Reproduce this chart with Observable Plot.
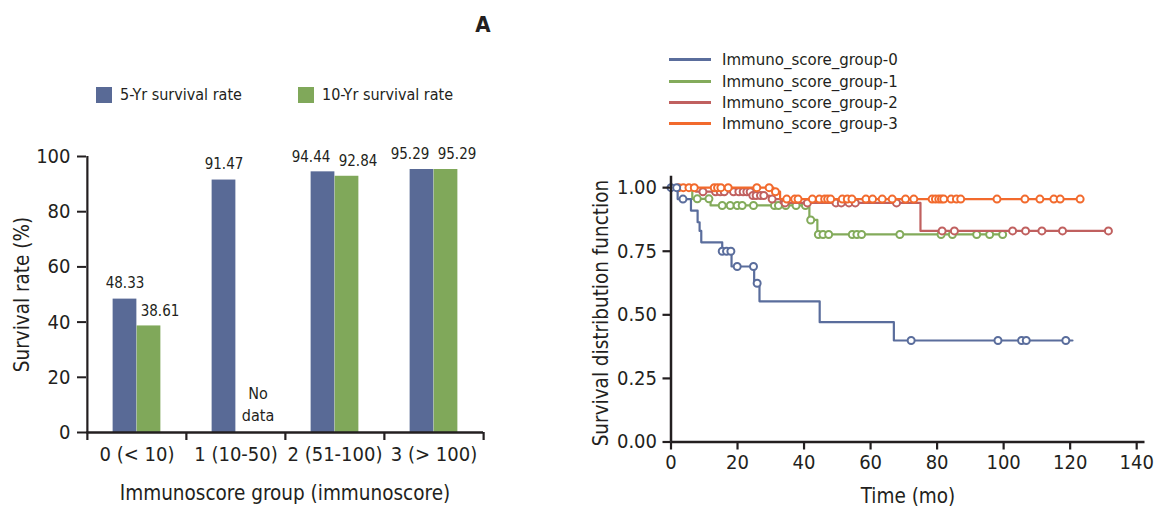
<!DOCTYPE html>
<html><head><meta charset="utf-8">
<script src="https://cdn.jsdelivr.net/npm/d3@7"></script>
<script src="https://cdn.jsdelivr.net/npm/@observablehq/plot@0.6"></script>
<style>
body{margin:0;background:#fff;}
#wrap{position:relative;width:1156px;height:510px;overflow:hidden;font-family:'Liberation Sans Narrow','Arial Narrow','DejaVu Sans Condensed',sans-serif;color:#231f20;}
.abs{position:absolute;white-space:nowrap;}
</style></head><body><div id="wrap"></div>
<script>
// ---------- Bar chart data ----------
const categories = ["0 (< 10)", "1 (10-50)", "2 (51-100)", "3 (> 100)"];
const fiveYr = [48.33, 91.47, 94.44, 95.29];
const tenYr = [38.61, null, 92.84, 95.29];
const seriesNames = ["5-Yr survival rate", "10-Yr survival rate"];
const barColors = ["#596a96", "#80a85a"];
const barYTicks = [0, 20, 40, 60, 80, 100];
const barXTitle = "Immunoscore group (immunoscore)";
const barYTitle = "Survival rate (%)";
const noDataText = "No\ndata";

// ---------- Kaplan-Meier data ----------
const groupNames = ["Immuno_score_group-0", "Immuno_score_group-1", "Immuno_score_group-2", "Immuno_score_group-3"];
const groupColors = ["#5a6d9c", "#83ab5b", "#c0605f", "#f26a2d"];
// steps: [time (mo), survival after the step]
const steps0 = [[2, 0.955], [6, 0.91], [8, 0.864], [8.6, 0.83], [9.1, 0.785], [15.4, 0.75], [18.2, 0.69], [25, 0.624], [26.6, 0.553], [44.7, 0.471], [67, 0.399]];
const censor0 = [0, 1.7, 3.6, 15.4, 16.7, 18, 19.9, 24.8, 25.9, 72.2, 98.3, 105.4, 106.8, 118.7];
const end0 = 120.7;
const steps1 = [[6.4, 0.956], [11.9, 0.93], [41.6, 0.873], [44.0, 0.816]];
const censor1 = [7.9, 11.4, 15.4, 17.8, 19.9, 21.4, 24.8, 31.1, 32.3, 34.5, 37.6, 40.4, 42.0, 44.3, 45.7, 47.4, 54.5, 55.9, 57.3, 68.8, 81.2, 84.6, 91.9, 95.8, 99.7];
const end1 = 100.5;
const steps2 = [[7.5, 0.984], [24.2, 0.969], [29.5, 0.955], [33, 0.94], [75, 0.83]];
const censor2 = [9.6, 13.4, 14.8, 16, 18.8, 20.4, 21.7, 22.8, 23.8, 24.6, 25.6, 26.9, 27.9, 30.4, 34.3, 41, 49.6, 51.2, 53.5, 55.4, 67.8, 81.5, 85.2, 102.7, 106.6, 111.5, 117.7, 131.5];
const end2 = 132;
const steps3 = [[30.8, 0.984], [32.8, 0.955]];
const censor3 = [2.3, 3.7, 5.4, 7, 13, 14, 15, 17.2, 25.8, 29.5, 31.4, 34.8, 37.2, 38.2, 42.5, 44.6, 46.2, 47.1, 48, 51.5, 53, 54.4, 58.6, 60.6, 63.5, 66.5, 70.5, 73, 78.5, 79.5, 80.5, 81.3, 82, 84.2, 85.8, 87.1, 98, 106.4, 110.9, 115.1, 117, 123];
const end3 = 123.6;
const kmXTicks = [0, 20, 40, 60, 80, 100, 120, 140];
const kmYTicks = [0, 0.25, 0.5, 0.75, 1];
const kmXTitle = "Time (mo)";
const kmYTitle = "Survival distribution function";
const panelTitle = "A";

// ---------- setup ----------
const FONT = "'Liberation Sans Narrow','Arial Narrow','DejaVu Sans Condensed',sans-serif";
const INK = "#231f20";
const TICK_FS = 20, TITLE_FS = 20.5, VALUE_FS = 15;
const wrap = document.getElementById("wrap");

// ---------- Bar chart ----------
const bW = 500, bH = 510, bML = 86, bMR = 17, bMT = 156, bMB = 78;
const band = (bW - bML - bMR) / categories.length;
const barPx = 24;
const bars = [];
categories.forEach((c, i) => {
  bars.push({cat: c, series: seriesNames[0], value: fiveYr[i], other: tenYr[i]});
  if (tenYr[i] != null) bars.push({cat: c, series: seriesNames[1], value: tenYr[i], other: fiveYr[i]});
});
const blueBars = bars.filter(d => d.series === seriesNames[0]);
const greenBars = bars.filter(d => d.series === seriesNames[1]);
const crowded = d => d.other != null && Math.abs(d.other - d.value) < 5;
const noData = categories.filter((c, i) => tenYr[i] == null).map(c => ({cat: c, text: noDataText}));
const fmt = d => d.value.toFixed(2);

const barPlot = Plot.plot({
  width: bW, height: bH,
  marginLeft: bML, marginRight: bMR, marginTop: bMT, marginBottom: bMB,
  style: {fontFamily: FONT, color: INK, background: "transparent", overflow: "visible"},
  x: {type: "band", domain: categories, padding: 0},
  y: {domain: [0, 100]},
  marks: [
    Plot.barY(blueBars, {x: "cat", y: "value", fill: barColors[0], insetLeft: band / 2 - barPx, insetRight: band / 2}),
    Plot.barY(greenBars, {x: "cat", y: "value", fill: barColors[1], insetLeft: band / 2, insetRight: band / 2 - barPx}),
    Plot.text(blueBars.filter(d => !crowded(d)), {x: "cat", y: "value", text: fmt, dx: -barPx / 2, dy: -16, fontSize: VALUE_FS, fill: INK}),
    Plot.text(blueBars.filter(crowded), {x: "cat", y: "value", text: fmt, dx: -barPx / 2 - 12, dy: -15, fontSize: VALUE_FS, fill: INK}),
    Plot.text(greenBars, {x: "cat", y: "value", text: fmt, dx: barPx / 2 + 11, dy: -15, fontSize: VALUE_FS, fill: INK}),
    Plot.text(noData, {x: "cat", y: 0, text: "text", dx: barPx / 2 + 10, dy: -12, lineAnchor: "bottom", lineHeight: 1.35, fontSize: 16, fill: INK}),
    Plot.ruleY([0], {stroke: INK, strokeWidth: 2.5}),
    Plot.ruleX([categories[0]], {dx: -band / 2, stroke: INK, strokeWidth: 2.2}),
    Plot.axisY({ticks: barYTicks, tickSize: 9, tickPadding: 7, fontSize: TICK_FS, strokeWidth: 2, stroke: INK, label: null}),
    Plot.axisX({ticks: categories, tickSize: 8, tickFormat: () => "", dx: -band / 2, strokeWidth: 2.2, stroke: INK, label: null}),
    Plot.axisX({ticks: [categories[categories.length - 1]], tickSize: 8, tickFormat: () => "", dx: band / 2, strokeWidth: 2.2, stroke: INK, label: null}),
    Plot.axisX({tickSize: 0, tickPadding: 14, fontSize: TICK_FS, label: null}),
    Plot.text([barXTitle], {frameAnchor: "bottom", lineAnchor: "middle", textAnchor: "middle", dy: 61, fontSize: TITLE_FS, fill: INK}),
    Plot.text([barYTitle], {frameAnchor: "left", lineAnchor: "middle", textAnchor: "middle", rotate: -90, dx: -64, fontSize: TITLE_FS, fill: INK})
  ]
});
barPlot.style.position = "absolute"; barPlot.style.left = "0px"; barPlot.style.top = "0px";
wrap.appendChild(barPlot);

// bar legend
seriesNames.forEach((n, i) => {
  const sw = document.createElement("div");
  sw.className = "abs";
  sw.style.cssText += `left:${[96, 298][i]}px;top:87px;width:16px;height:16px;background:${barColors[i]};`;
  wrap.appendChild(sw);
  const t = document.createElement("div");
  t.className = "abs";
  t.textContent = n;
  t.style.cssText += `left:${[120, 322][i]}px;top:83px;font-size:16px;line-height:24px;`;
  wrap.appendChild(t);
});

// ---------- KM chart ----------
const km = [
  {name: groupNames[0], steps: steps0, censor: censor0, end: end0},
  {name: groupNames[1], steps: steps1, censor: censor1, end: end1},
  {name: groupNames[2], steps: steps2, censor: censor2, end: end2},
  {name: groupNames[3], steps: steps3, censor: censor3, end: end3}
];
const levelAt = (steps, t) => { let s = 1; for (const [st, sv] of steps) if (st <= t) s = sv; return s; };
const kW = 586, kH = 510, kML = 100.5, kMR = 11.5, kMT = 175.7, kMB = 68.5;
const kmMarks = [];
[1, 2, 3, 0].forEach(i => {
  const g = km[i];
  const pts = [{group: g.name, t: 0, s: 1}, ...g.steps.map(([t, s]) => ({group: g.name, t, s})), {group: g.name, t: g.end, s: levelAt(g.steps, g.end)}];
  const dots = g.censor.map(t => ({group: g.name, t, s: levelAt(g.steps, t)}));
  kmMarks.push(Plot.line(pts, {x: "t", y: "s", stroke: "group", curve: "step-after", strokeWidth: 2.2}));
  kmMarks.push(Plot.dot(dots, {x: "t", y: "s", stroke: "group", fill: "white", r: 3.5, strokeWidth: 2}));
});

const kmPlot = Plot.plot({
  width: kW, height: kH,
  marginLeft: kML, marginRight: kMR, marginTop: kMT, marginBottom: kMB,
  style: {fontFamily: FONT, color: INK, background: "transparent", overflow: "visible"},
  x: {domain: [0, 142.5]},
  y: {domain: [0, 1.045]},
  color: {domain: groupNames, range: groupColors},
  marks: [
    ...kmMarks,
    Plot.ruleY([0], {stroke: INK, strokeWidth: 2.5}),
    Plot.ruleX([0], {stroke: INK, strokeWidth: 2.5}),
    Plot.axisX({ticks: kmXTicks, tickSize: 8, tickPadding: 5, fontSize: TICK_FS, strokeWidth: 2.2, stroke: INK, label: null}),
    Plot.axisY({ticks: kmYTicks, tickFormat: d3.format(".2f"), tickSize: 8, tickPadding: 6, fontSize: TICK_FS, strokeWidth: 2.2, stroke: INK, label: null}),
    Plot.text([kmXTitle], {frameAnchor: "bottom", lineAnchor: "middle", textAnchor: "middle", dy: 54, fontSize: TITLE_FS, fill: INK}),
    Plot.text([kmYTitle], {frameAnchor: "left", lineAnchor: "middle", textAnchor: "middle", rotate: -90, dx: -70, dy: 4, fontSize: TITLE_FS, fill: INK})
  ]
});
kmPlot.style.position = "absolute"; kmPlot.style.left = "570px"; kmPlot.style.top = "0px";
wrap.appendChild(kmPlot);

// KM legend
groupNames.forEach((n, i) => {
  const y = [59, 81, 102, 123][i];
  const ln = document.createElement("div");
  ln.className = "abs";
  ln.style.cssText += `left:669px;top:${y - 1.5}px;width:42px;height:3px;background:${groupColors[i]};`;
  wrap.appendChild(ln);
  const t = document.createElement("div");
  t.className = "abs";
  t.textContent = n;
  t.style.cssText += `left:722px;top:${y - 12}px;font-size:16.7px;line-height:24px;`;
  wrap.appendChild(t);
});

// panel title
const ttl = document.createElement("div");
ttl.className = "abs";
ttl.textContent = panelTitle;
ttl.style.cssText += `left:473px;top:12px;width:20px;text-align:center;font-size:22px;font-weight:bold;line-height:26px;`;
wrap.appendChild(ttl);
</script></body></html>
